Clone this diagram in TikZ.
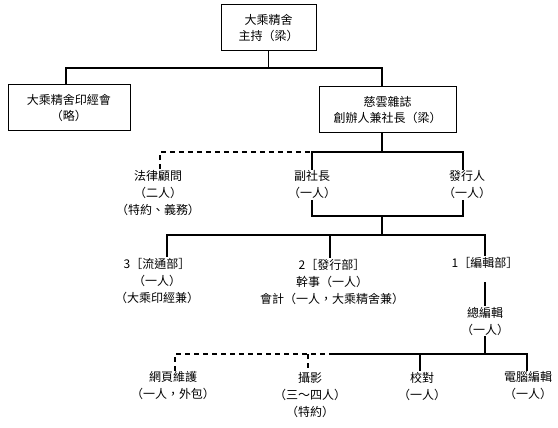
\documentclass[tikz,border=0pt]{standalone}
\usepackage{fontspec}
\newfontfamily\cjk{Noto Sans CJK TC}
\tikzset{
  orgbox/.style={draw, line width=1pt, minimum width=#1, minimum height=46pt,
    inner sep=0pt, align=center, font=\cjk\fontsize{12}{16}\selectfont},
  post/.style={align=center, inner sep=1pt, font=\cjk\fontsize{12}{17}\selectfont},
  link/.style={line width=1.3pt},
  loose/.style={line width=1.3pt, dash pattern=on 5pt off 4pt}
}
\begin{document}
\begin{tikzpicture}[x=1pt, y=-1pt]
  \useasboundingbox (0,0) rectangle (558,428);

  % boxes
  \node[orgbox=95pt]  (master)  at (268.5,28)  {大乘精舍\\主持（梁）};
  \node[orgbox=122pt] (yinjing) at (69,108)    {大乘精舍印經會\\（略）};
  \node[orgbox=137pt] (ciyun)   at (387.5,110) {慈雲雜誌\\創辦人兼社長（梁）};

  % people and departments
  \node[post] (falv)     at (158,193) {法律顧問\\（二人）\\（特約、義務）};
  \node[post] (fushe)    at (312,185) {副社長\\（一人）};
  \node[post] (faxing)   at (467,185) {發行人\\（一人）};
  \node[post] (liutong)  at (157,281) {3［流通部］\\（一人）\\（大乘印經兼）};
  \node[post] (faxingbu) at (332,282) {2［發行部］\\幹事（一人）\\會計（一人，大乘精舍兼）};
  \node[post] (bianji)   at (485,263) {1［編輯部］};
  \node[post] (zongbian) at (485,321) {總編輯\\（一人）};
  \node[post] (wangye)   at (173,386) {網頁維護\\（一人，外包）};
  \node[post] (sheying)  at (310,395) {攝影\\（三～四人）\\（特約）};
  \node[post] (jiaodui)  at (422,386) {校對\\（一人）};
  \node[post] (diannao)  at (528,386) {電腦編輯\\（一人）};

  % junctions
  \coordinate (b1l) at (66,68);
  \coordinate (b1r) at (382,68);
  \coordinate (b2)  at (382,152);
  \coordinate (b2l) at (160,152);
  \coordinate (b2r) at (463,152);
  \coordinate (b3)  at (382,216);
  \coordinate (b3r) at (463,216);
  \coordinate (b4)  at (382,235);
  \coordinate (b4l) at (167,235);
  \coordinate (b4m) at (330,235);
  \coordinate (b4r) at (485,235);
  \coordinate (bianji low) at (485,282);
  \coordinate (b5)  at (485,354);
  \coordinate (b5l) at (175,354);
  \coordinate (b5m) at (308,354);
  \coordinate (b5d) at (330,354);
  \coordinate (b5a) at (420,354);
  \coordinate (b5r) at (527,354);

  \draw[link] (master.south) -- (master.south |- b1l);
  \draw[link] (b1l |- yinjing.north) -- (b1l) -- (b1r) -- (b1r |- ciyun.north);

  \draw[link] (b2 |- ciyun.south) -- (b2);
  \draw[loose] (b2l |- falv.north) -- (b2l) -- (fushe.north |- b2l);
  \draw[link] (fushe.north) -- (fushe.north |- b2l) -- (b2r) -- (b2r |- faxing.north);

  \draw[link] (fushe.south) -- (fushe.south |- b3) -- (b3r) -- (b3r |- faxing.south);
  \draw[link] (b3) -- (b4);
  \draw[link] (b4l |- liutong.north) -- (b4l) -- (b4r) -- (bianji.north);
  \draw[link] (b4m) -- (b4m |- faxingbu.north);

  \draw[link] (bianji low) -- (zongbian.north);
  \draw[link] (zongbian.south) -- (b5);
  \draw[loose] (b5l |- wangye.north) -- (b5l) -- (b5d);
  \draw[loose] (b5m) -- (b5m |- sheying.north);
  \draw[link] (b5d) -- (b5r) -- (b5r |- diannao.north);
  \draw[link] (b5a) -- (b5a |- jiaodui.north);
\end{tikzpicture}
\end{document}
